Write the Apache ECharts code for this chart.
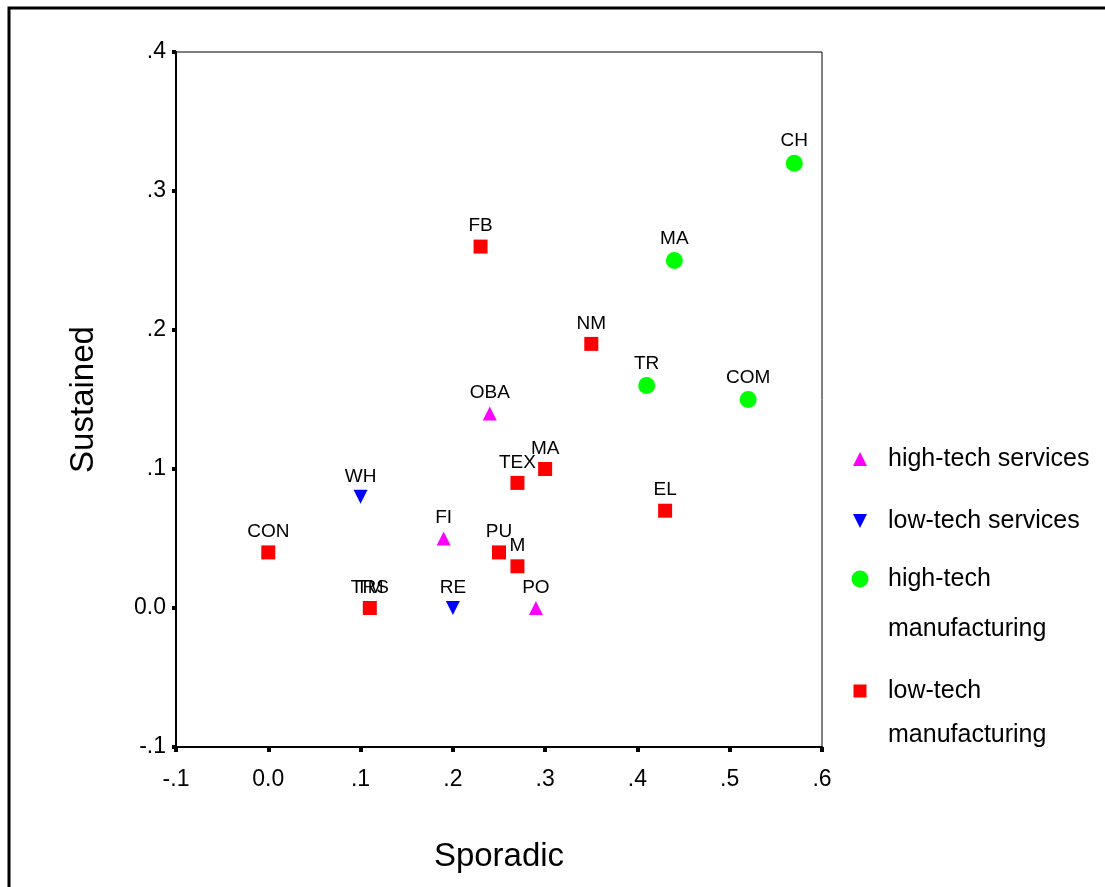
<!DOCTYPE html>
<html>
<head>
<meta charset="utf-8">
<script src="https://cdn.jsdelivr.net/npm/echarts@6/dist/echarts.min.js"></script>
<style>html,body{margin:0;padding:0;background:#fff;}#c{width:1105px;height:887px;}</style>
</head>
<body>
<div id="c"></div>
<script>
// Data: [Sporadic, Sustained, label]
const highTechServices = [[0.24, 0.14, 'OBA'], [0.19, 0.05, 'FI'], [0.29, 0.0, 'PO']];
const lowTechServices = [[0.10, 0.08, 'WH'], [0.20, 0.0, 'RE'], [0.11, 0.0, 'TRS']];
const highTechManufacturing = [[0.57, 0.32, 'CH'], [0.44, 0.25, 'MA'], [0.41, 0.16, 'TR'], [0.52, 0.15, 'COM']];
const lowTechManufacturing = [[0.23, 0.26, 'FB'], [0.35, 0.19, 'NM'], [0.30, 0.10, 'MA'], [0.27, 0.09, 'TEX'],
  [0.43, 0.07, 'EL'], [0.0, 0.04, 'CON'], [0.25, 0.04, 'PU'], [0.27, 0.03, 'M'], [0.11, 0.0, 'TM']];
const seriesNames = ['high-tech services', 'low-tech services', 'high-tech manufacturing', 'low-tech manufacturing'];
const legendLines = [['high-tech services'], ['low-tech services'], ['high-tech', 'manufacturing'], ['low-tech', 'manufacturing']];
const xTicks = [-0.1, 0.6, 0.1];
const yTicks = [-0.1, 0.4, 0.1];

const FONT = 'Liberation Sans, Arial, sans-serif';
function fmt(v) {
  const r = Math.round(v * 10) / 10;
  if (r === 0) return '0.0';
  let s = r.toFixed(1);
  return s.replace(/^(-?)0\./, '$1.');
}
const downTri = 'path://M0,0 L10,0 L5,10 Z';
const upTri = 'path://M5,0 L10,10 L0,10 Z';
const lbl = {show: true, position: 'top', distance: 4, color: '#000', fontSize: 19, fontFamily: FONT,
  formatter: p => p.data[2]};
function mk(name, data, symbol, size, color) {
  return {type: 'scatter', name: name, data: data, symbol: symbol, symbolSize: size,
    itemStyle: {color: color, opacity: 1}, label: lbl, emphasis: {disabled: true}};
}
const series = [
  mk(seriesNames[0], highTechServices, upTri, 14, '#ff00ff'),
  mk(seriesNames[1], lowTechServices, downTri, 14, '#0000ff'),
  mk(seriesNames[2], highTechManufacturing, 'circle', 17, '#00ff00'),
  mk(seriesNames[3], lowTechManufacturing, 'rect', 14, '#ff0000')
];
// legend layout: icon center y, line height, icon size
const legendCenters = [459, 521, 579, 691];
const legendLH = [47, 47, 50, 44];
const legendIcon = [14, 14, 17, 13];
const legends = seriesNames.map((n, i) => {
  const lines = legendLines[i];
  const lh = legendLH[i];
  // for multi-line items add an empty line above so the icon aligns with the first line
  const txtLines = lines.length > 1 ? [''].concat(lines) : lines;
  const nLines = txtLines.length;
  const sz = legendIcon[i];
  return {
    data: [n], left: 860 - sz / 2, top: legendCenters[i] - lh * nLines / 2, padding: 0,
    orient: 'vertical', itemWidth: sz, itemHeight: sz, selectedMode: false,
    formatter: () => txtLines.map(t => '{s|}' + t).join('\n'),
    textStyle: {fontSize: 25, fontFamily: FONT, color: '#000', lineHeight: lh,
      rich: {s: {width: 28 - sz / 2 - 5, lineHeight: lh}}}
  };
});

const chart = echarts.init(document.getElementById('c'));
chart.setOption({
  animation: false,
  backgroundColor: '#fff',
  graphic: [{type: 'rect', shape: {x: 9, y: 8, width: 1300, height: 1000},
    style: {fill: null, stroke: '#000', lineWidth: 3}, silent: true}],
  grid: {left: 176, right: 283, top: 52, bottom: 140, show: true, borderColor: '#000', borderWidth: 1},
  legend: legends,
  xAxis: {type: 'value', min: xTicks[0], max: xTicks[1], interval: xTicks[2],
    name: 'Sporadic', nameLocation: 'middle', nameGap: 93,
    nameTextStyle: {fontSize: 33, fontFamily: FONT, color: '#000'},
    axisLine: {onZero: false, lineStyle: {color: '#000', width: 2}},
    axisTick: {show: true, length: 5, lineStyle: {color: '#000', width: 4}},
    axisLabel: {formatter: fmt, fontSize: 23, fontFamily: FONT, color: '#000', margin: 21},
    splitLine: {show: false}},
  yAxis: {type: 'value', min: yTicks[0], max: yTicks[1], interval: yTicks[2],
    name: 'Sustained', nameLocation: 'middle', nameGap: 76,
    nameTextStyle: {fontSize: 33, fontFamily: FONT, color: '#000'},
    axisLine: {onZero: false, lineStyle: {color: '#000', width: 2}},
    axisTick: {show: true, length: 4, lineStyle: {color: '#000', width: 4}},
    axisLabel: {formatter: fmt, fontSize: 23, fontFamily: FONT, color: '#000', margin: 10},
    splitLine: {show: false}},
  series: series
});
</script>
</body>
</html>
